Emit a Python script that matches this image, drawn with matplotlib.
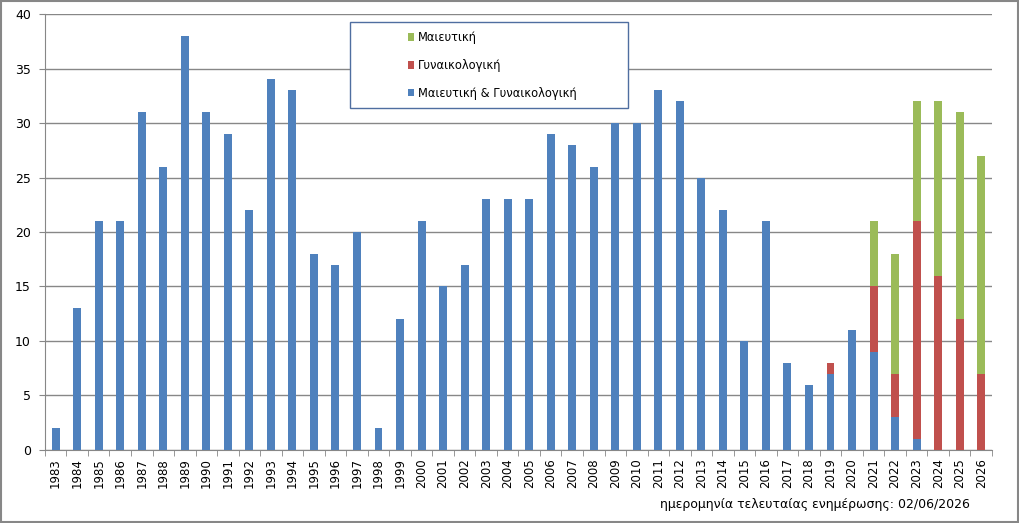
import matplotlib.pyplot as plt
from matplotlib.patches import Rectangle
import numpy as np

years = list(range(1983, 2027))

# Μαιευτική & Γυναικολογική
both = [2, 13, 21, 21, 31, 26, 38, 31, 29, 22, 34, 33, 18, 17, 20, 2, 12, 21, 15, 17,
        23, 23, 23, 29, 28, 26, 30, 30, 33, 32, 25, 22, 10, 21, 8, 6, 7, 11, 9, 3,
        1, 0, 0, 0]
# Γυναικολογική
gyn = [0] * 36 + [1, 0, 6, 4, 20, 16, 12, 7]
# Μαιευτική
mai = [0] * 38 + [6, 11, 11, 16, 19, 20]

blue = '#4F81BD'
red = '#C0504D'
green = '#9BBB59'
grid_c = '#878787'

plt.rcParams['font.family'] = 'DejaVu Sans'

fig = plt.figure(figsize=(10.2, 5.23), dpi=100)
ax = fig.add_axes([0.044, 0.1396, 0.9285, 0.8336])

x = np.arange(len(years))
both = np.array(both)
gyn = np.array(gyn)
mai = np.array(mai)
w = 0.37
b1 = ax.bar(x, both, w, color=blue, label='Μαιευτική & Γυναικολογική', zorder=3)
b2 = ax.bar(x, gyn, w, bottom=both, color=red, label='Γυναικολογική', zorder=3)
b3 = ax.bar(x, mai, w, bottom=both + gyn, color=green, label='Μαιευτική', zorder=3)

ax.set_xlim(-0.5, len(years) - 0.5)
ax.set_ylim(0, 40)
ax.set_yticks(range(0, 41, 5))
ax.yaxis.grid(True, color=grid_c, linewidth=1)
ax.set_axisbelow(True)

ax.set_xticks(x)
ax.set_xticklabels([str(y) for y in years], rotation=90, fontsize=8.5)
ax.set_xticks(np.arange(-0.5, len(years), 1), minor=True)
ax.tick_params(axis='x', which='major', length=0, pad=6)
ax.tick_params(axis='x', which='minor', length=4, color=grid_c, direction='out')
ax.tick_params(axis='y', length=4, color=grid_c, labelsize=9, pad=6)

for s in ['top', 'right']:
    ax.spines[s].set_visible(False)
for s in ['left', 'bottom']:
    ax.spines[s].set_color(grid_c)

# legend box
ax.add_patch(Rectangle((0.322, 0.784), 0.294, 0.198, transform=ax.transAxes,
                       facecolor='white', edgecolor='#4F6EA0', linewidth=1, zorder=4))
leg = ax.legend(handles=[b3, b2, b1], loc='upper left', bbox_to_anchor=(0.372, 0.985),
                frameon=False, fontsize=8.3, handlelength=0.6, handleheight=0.6,
                handletextpad=0.3, labelspacing=1.3)
leg.set_zorder(5)

fig.text(0.799, 0.035, 'ημερομηνία τελευταίας ενημέρωσης: 02/06/2026', ha='center',
         va='center', fontsize=9)

fig.patches.append(Rectangle((0.001, 0.002), 0.997, 0.996, transform=fig.transFigure,
                             fill=False, edgecolor=grid_c, linewidth=1.5))

fig.savefig('out.png', dpi=100)
